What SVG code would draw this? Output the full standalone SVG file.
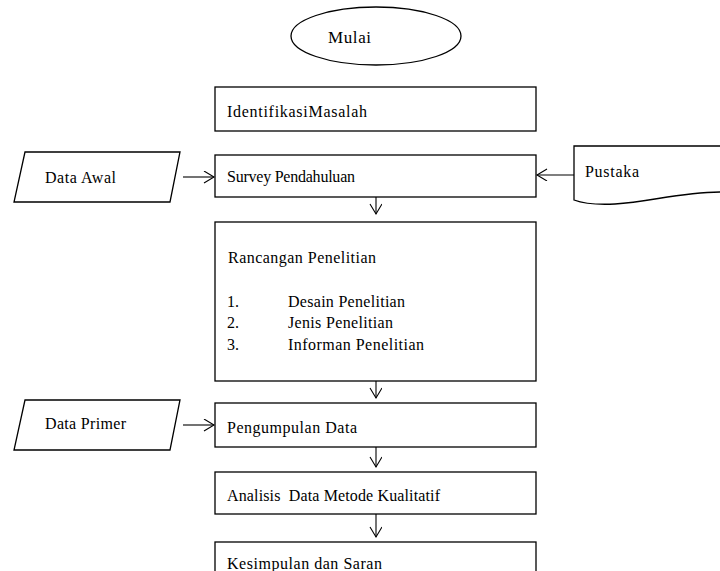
<svg xmlns="http://www.w3.org/2000/svg" width="720" height="571" viewBox="0 0 720 571">
<style>
.s{fill:#fff;stroke:#000;stroke-width:1.3}
.t{font-family:'Liberation Serif','Times New Roman',serif;font-size:16px;fill:#000}
.c{fill:none;stroke:#000;stroke-width:1.1}
</style>
<defs>
<marker id="a" markerWidth="14" markerHeight="14" refX="11" refY="6" orient="auto" markerUnits="userSpaceOnUse">
<path d="M1,0 L11,6 L1,12" fill="none" stroke="#000" stroke-width="1.1"/>
</marker>
</defs>
<rect width="720" height="571" fill="#fff"/>
<g id="mulai"><ellipse class="s" cx="376" cy="36" rx="85" ry="29"/><text class="t" x="328" y="43" style="font-size:17px" textLength="43">Mulai</text></g>
<g id="identifikasi"><rect class="s" x="215" y="87" width="321" height="44"/><text class="t" x="227" y="117" textLength="140">IdentifikasiMasalah</text></g>
<g id="survey"><rect class="s" x="215" y="155" width="321" height="42"/><text class="t" x="227" y="182" textLength="128">Survey Pendahuluan</text></g>
<g id="dataawal"><path class="s" d="M25,152 L180,152 L170,202 L14,202 Z"/><text class="t" x="45" y="183" textLength="71">Data Awal</text></g>
<g id="pustaka"><path class="s" d="M574,146 L722,146 L722,192 C680,192 650,202 615,204 C595,205 582,203 574,200 Z"/><text class="t" x="585" y="177" textLength="54">Pustaka</text></g>
<g id="rancangan"><rect class="s" x="215" y="222" width="321" height="159"/>
<text class="t" x="228" y="263" textLength="148">Rancangan Penelitian</text>
<text class="t" x="227" y="307">1.</text><text class="t" x="288" y="307" textLength="117">Desain Penelitian</text>
<text class="t" x="227" y="328">2.</text><text class="t" x="288" y="328" textLength="105">Jenis Penelitian</text>
<text class="t" x="227" y="350">3.</text><text class="t" x="288" y="350" textLength="136">Informan Penelitian</text></g>
<g id="dataprimer"><path class="s" d="M25,400 L180,400 L170,450 L14,450 Z"/><text class="t" x="45" y="429" textLength="81">Data Primer</text></g>
<g id="pengumpulan"><rect class="s" x="215" y="403" width="321" height="44"/><text class="t" x="227" y="433" textLength="130">Pengumpulan Data</text></g>
<g id="analisis"><rect class="s" x="215" y="472" width="321" height="42"/><text class="t" x="227" y="501" textLength="213" xml:space="preserve">Analisis  Data Metode Kualitatif</text></g>
<g id="kesimpulan"><rect class="s" x="215" y="542" width="321" height="50"/><text class="t" x="227" y="569" textLength="155">Kesimpulan dan Saran</text></g>
<g id="connectors">
<line class="c" x1="183" y1="177" x2="214" y2="177" marker-end="url(#a)"/>
<line class="c" x1="574" y1="175" x2="537" y2="175" marker-end="url(#a)"/>
<line class="c" x1="376" y1="197" x2="376" y2="214" marker-end="url(#a)"/>
<line class="c" x1="376" y1="381" x2="376" y2="398" marker-end="url(#a)"/>
<line class="c" x1="183" y1="425" x2="214" y2="425" marker-end="url(#a)"/>
<line class="c" x1="376" y1="447" x2="376" y2="467" marker-end="url(#a)"/>
<line class="c" x1="376" y1="514" x2="376" y2="537" marker-end="url(#a)"/>
</g>
</svg>
